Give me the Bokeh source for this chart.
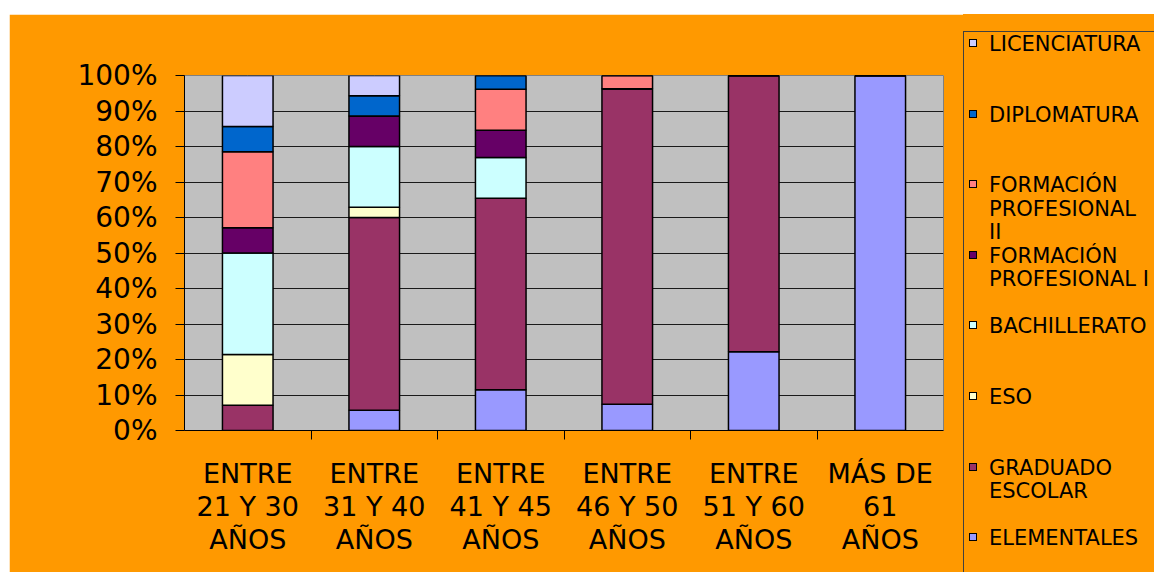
from bokeh.plotting import figure
from bokeh.layouts import row
from bokeh.models import (FactorRange, Range1d, CategoricalAxis, FixedTicker, LinearAxis,
                          PrintfTickFormatter, ColumnDataSource, Grid, Div)
from bokeh.embed import file_html
from bokeh.resources import INLINE

categories = ["ENTRE\n21 Y 30\nAÑOS", "ENTRE\n31 Y 40\nAÑOS", "ENTRE\n41 Y 45\nAÑOS",
              "ENTRE\n46 Y 50\nAÑOS", "ENTRE\n51 Y 60\nAÑOS", "MÁS DE\n61\nAÑOS"]

# percentages, stacked bottom to top
elementales = [0.0, 5.7, 11.5, 7.4, 22.2, 100.0]
graduado = [7.1, 54.3, 53.9, 88.9, 77.8, 0.0]
eso = [14.3, 2.9, 0.0, 0.0, 0.0, 0.0]
bachillerato = [28.6, 17.1, 11.5, 0.0, 0.0, 0.0]
fp1 = [7.1, 8.6, 7.7, 0.0, 0.0, 0.0]
fp2 = [21.4, 0.0, 11.5, 3.7, 0.0, 0.0]
diplomatura = [7.1, 5.7, 3.9, 0.0, 0.0, 0.0]
licenciatura = [14.4, 5.7, 0.0, 0.0, 0.0, 0.0]

series_keys = ["elementales", "graduado", "eso", "bachillerato", "fp1", "fp2", "diplomatura", "licenciatura"]
series_names = ["ELEMENTALES", "GRADUADO\nESCOLAR", "ESO", "BACHILLERATO",
                "FORMACIÓN\nPROFESIONAL I", "FORMACIÓN\nPROFESIONAL\nII", "DIPLOMATURA", "LICENCIATURA"]
colors = ["#9999FF", "#993366", "#FFFFCC", "#CCFFFF", "#660066", "#FF8080", "#0066CC", "#CCCCFF"]

y_ticks = [0, 10, 20, 30, 40, 50, 60, 70, 80, 90, 100]

source = ColumnDataSource(dict(cat=categories, elementales=elementales, graduado=graduado, eso=eso,
                               bachillerato=bachillerato, fp1=fp1, fp2=fp2,
                               diplomatura=diplomatura, licenciatura=licenciatura))

FONT = "DejaVu Sans"
ORANGE = "#FF9900"

p = figure(x_range=FactorRange(*categories), y_range=Range1d(0, 100),
           width=954, height=558, output_backend="svg", toolbar_location=None,
           x_axis_location=None, y_axis_location=None,
           min_border_left=175, min_border_right=20, min_border_top=61, min_border_bottom=142,
           border_fill_color=ORANGE, background_fill_color="#C0C0C0",
           outline_line_color="#808080", margin=(14, 0, 0, 9))

yticker = FixedTicker(ticks=y_ticks)
p.add_layout(Grid(dimension=1, ticker=yticker, grid_line_color="#1a1a1a", grid_line_width=1))

p.vbar_stack(series_keys, x="cat", width=0.4, color=colors, source=source,
             line_color="black", line_width=1.5)

yaxis = LinearAxis(ticker=yticker, formatter=PrintfTickFormatter(format="%d%%"),
                   major_tick_out=9, major_tick_in=0, minor_tick_line_color=None,
                   axis_line_color="black", major_tick_line_color="black",
                   major_label_text_font=FONT, major_label_text_font_size="28px",
                   major_label_text_color="black", major_label_standoff=18)
p.add_layout(yaxis, "left")

# helper categorical range whose factor centres fall on the category boundaries
edge_factors = ["e%d" % i for i in range(len(categories) + 1)]
p.extra_x_ranges = {"edges": FactorRange(factors=edge_factors, range_padding=-0.5,
                                         range_padding_units="absolute")}
eaxis = CategoricalAxis(x_range_name="edges",
                        major_tick_out=9, major_tick_in=0, minor_tick_line_color=None,
                        axis_line_color="black", major_tick_line_color="black",
                        major_label_text_font_size="0px", major_label_standoff=0,
                        major_label_text_color=None)
p.add_layout(eaxis, "below")

caxis = CategoricalAxis(axis_line_color=None, major_tick_line_color=None, minor_tick_line_color=None,
                        major_label_text_font=FONT, major_label_text_font_size="27px",
                        major_label_text_line_height=1.07, major_label_text_color="black",
                        major_label_standoff=12)
p.add_layout(caxis, "below")

# legend (top entry = top of the stack), built from the series names and colours
entries = []
for i in reversed(range(len(series_names))):
    text = series_names[i].replace("\n", "<br>")
    entries.append(
        '<div style="position:relative;height:70.6px;padding-left:20px;">'
        '<span style="position:absolute;left:0;top:6px;width:8px;height:8px;'
        'background:%s;border:1px solid #000;"></span>%s</div>' % (colors[i], text))

legend_html = (
    '<div style="margin-top:17px;border-left:1px solid #404040;border-top:1px solid #404040;'
    'height:560px;width:240px;box-sizing:border-box;padding:1px 0 0 5px;'
    "font-family:'DejaVu Sans';font-size:21px;line-height:23.5px;color:#000;"
    'white-space:nowrap;">' + "".join(entries) + '</div>')

lg = Div(text=legend_html, width=191, height=558, margin=(14, 0, 0, 0),
         styles={"background-color": ORANGE, "overflow": "hidden"})

layout = row(p, lg, spacing=0)

open("out.html", "w").write(file_html(layout, INLINE))
